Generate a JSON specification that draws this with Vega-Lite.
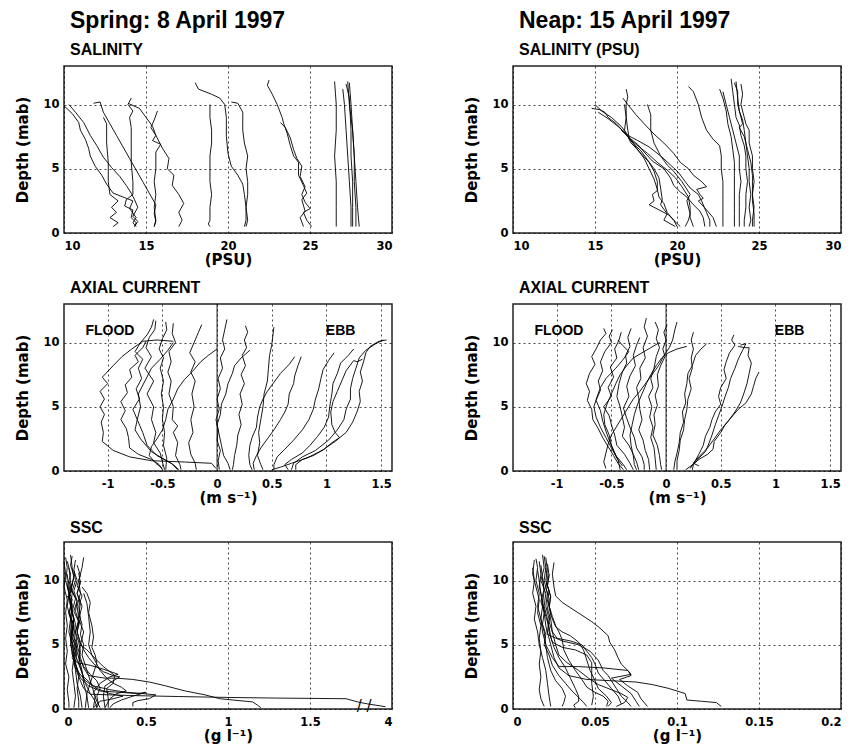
{
"$schema": "https://vega.github.io/schema/vega-lite/v6.json",
"background": "white",
"padding": {"left": 15, "top": 9, "right": 5, "bottom": 5},
"config": {
  "view": {"stroke": "#222", "strokeWidth": 1.5},
  "axis": {"grid": true, "gridColor": "black", "gridDash": [2, 3], "gridWidth": 0.8, "gridOpacity": 0.9, "domain": false, "ticks": false,
    "labelFont": "DejaVu Sans", "labelFontWeight": "bold", "labelFontSize": 11.5, "labelColor": "black",
    "titleFont": "DejaVu Sans", "titleFontSize": 15, "titleFontWeight": "bold", "titleColor": "black"},
  "axisX": {"labelPadding": 7, "titlePadding": 1},
  "axisY": {"labelPadding": 5, "titlePadding": 12},
  "title": {"font": "Liberation Sans", "fontSize": 16, "fontWeight": "bold", "color": "black", "anchor": "start", "frame": "group", "dx": 6, "offset": 6,
    "subtitleFont": "Liberation Sans", "subtitleFontSize": 16, "subtitleFontWeight": "bold", "subtitleColor": "black", "subtitlePadding": 9}
},
"datasets": {
"sal_s": [
{"c":"A","v":10.0,"d":9.9},{"c":"A","v":10.5,"d":9.3},{"c":"A","v":10.9,"d":8.6},{"c":"A","v":11.0,"d":8.0},{"c":"A","v":11.3,"d":7.3},{"c":"A","v":11.5,"d":6.6},{"c":"A","v":11.6,"d":6.0},{"c":"A","v":11.9,"d":5.2},{"c":"A","v":12.3,"d":4.5},{"c":"A","v":12.6,"d":3.8},{"c":"A","v":13.0,"d":3.1},{"c":"A","v":13.8,"d":2.7},{"c":"A","v":14.2,"d":2.5},{"c":"A","v":14.0,"d":1.9},{"c":"A","v":14.4,"d":1.2},{"c":"A","v":14.2,"d":0.8},{"c":"A","v":14.4,"d":0.5},
{"c":"B","v":10.3,"d":10.0},{"c":"B","v":10.7,"d":9.4},{"c":"B","v":11.2,"d":8.6},{"c":"B","v":11.6,"d":7.6},{"c":"B","v":12.0,"d":6.8},{"c":"B","v":12.4,"d":5.9},{"c":"B","v":12.9,"d":5.1},{"c":"B","v":13.4,"d":4.4},{"c":"B","v":13.8,"d":3.7},{"c":"B","v":14.1,"d":3.1},{"c":"B","v":14.3,"d":2.6},{"c":"B","v":14.5,"d":2.0},{"c":"B","v":14.2,"d":1.3},{"c":"B","v":14.5,"d":0.9},{"c":"B","v":14.3,"d":0.5},
{"c":"C","v":11.8,"d":10.1},{"c":"C","v":12.2,"d":10.2},{"c":"C","v":12.4,"d":9.4},{"c":"C","v":12.8,"d":8.5},{"c":"C","v":13.2,"d":7.6},{"c":"C","v":13.6,"d":6.7},{"c":"C","v":14.0,"d":5.8},{"c":"C","v":14.4,"d":4.9},{"c":"C","v":14.8,"d":4.0},{"c":"C","v":15.2,"d":3.1},{"c":"C","v":15.6,"d":2.2},{"c":"C","v":15.5,"d":1.5},{"c":"C","v":15.6,"d":0.9},{"c":"C","v":15.5,"d":0.5},
{"c":"D","v":12.4,"d":9.0},{"c":"D","v":12.6,"d":8.5},{"c":"D","v":12.6,"d":7.0},{"c":"D","v":12.7,"d":5.5},{"c":"D","v":12.7,"d":4.0},{"c":"D","v":12.8,"d":3.0},{"c":"D","v":13.3,"d":2.5},{"c":"D","v":12.9,"d":2.0},{"c":"D","v":13.2,"d":1.6},{"c":"D","v":12.8,"d":1.2},{"c":"D","v":13.3,"d":0.8},{"c":"D","v":13.0,"d":0.5},
{"c":"E","v":14.1,"d":10.5},{"c":"E","v":13.9,"d":10.0},{"c":"E","v":14.2,"d":9.5},{"c":"E","v":14.0,"d":9.0},{"c":"E","v":14.1,"d":8.2},{"c":"E","v":14.1,"d":7.0},{"c":"E","v":14.1,"d":5.5},{"c":"E","v":14.2,"d":4.0},{"c":"E","v":14.2,"d":3.0},{"c":"E","v":13.8,"d":2.6},{"c":"E","v":13.7,"d":2.1},{"c":"E","v":14.2,"d":1.8},{"c":"E","v":14.1,"d":1.2},{"c":"E","v":14.4,"d":0.8},{"c":"E","v":14.3,"d":0.5},
{"c":"F","v":13.9,"d":10.1},{"c":"F","v":14.6,"d":9.7},{"c":"F","v":15.0,"d":9.0},{"c":"F","v":15.4,"d":8.3},{"c":"F","v":15.6,"d":7.6},{"c":"F","v":16.0,"d":6.6},{"c":"F","v":16.4,"d":5.8},{"c":"F","v":16.3,"d":5.0},{"c":"F","v":16.7,"d":4.5},{"c":"F","v":16.6,"d":3.7},{"c":"F","v":17.0,"d":3.0},{"c":"F","v":17.3,"d":2.3},{"c":"F","v":17.0,"d":1.6},{"c":"F","v":17.2,"d":1.0},{"c":"F","v":17.0,"d":0.5},
{"c":"G","v":15.7,"d":9.5},{"c":"G","v":15.5,"d":8.8},{"c":"G","v":15.3,"d":8.2},{"c":"G","v":15.6,"d":7.6},{"c":"G","v":15.4,"d":7.2},{"c":"G","v":15.9,"d":6.9},{"c":"G","v":15.6,"d":6.3},{"c":"G","v":15.6,"d":5.0},{"c":"G","v":15.5,"d":4.0},{"c":"G","v":15.6,"d":3.0},{"c":"G","v":15.5,"d":2.0},{"c":"G","v":15.6,"d":1.0},{"c":"G","v":15.5,"d":0.5},
{"c":"H","v":18.0,"d":11.7},{"c":"H","v":18.2,"d":11.2},{"c":"H","v":19.0,"d":10.8},{"c":"H","v":19.5,"d":10.5},{"c":"H","v":19.8,"d":10.0},{"c":"H","v":19.9,"d":9.0},{"c":"H","v":19.9,"d":7.5},{"c":"H","v":20.0,"d":6.2},{"c":"H","v":20.2,"d":5.2},{"c":"H","v":20.6,"d":4.5},{"c":"H","v":20.9,"d":3.8},{"c":"H","v":21.0,"d":3.0},{"c":"H","v":21.1,"d":2.0},{"c":"H","v":21.1,"d":1.0},{"c":"H","v":21.0,"d":0.5},
{"c":"I","v":18.9,"d":10.0},{"c":"I","v":18.9,"d":9.0},{"c":"I","v":19.0,"d":8.0},{"c":"I","v":19.0,"d":7.0},{"c":"I","v":18.9,"d":6.0},{"c":"I","v":18.9,"d":5.0},{"c":"I","v":18.9,"d":4.0},{"c":"I","v":19.0,"d":3.0},{"c":"I","v":18.9,"d":2.0},{"c":"I","v":18.9,"d":1.0},{"c":"I","v":18.8,"d":0.7},{"c":"I","v":18.9,"d":0.5},
{"c":"J","v":20.2,"d":10.2},{"c":"J","v":20.6,"d":10.1},{"c":"J","v":20.9,"d":9.4},{"c":"J","v":20.9,"d":8.0},{"c":"J","v":21.0,"d":7.0},{"c":"J","v":21.2,"d":6.0},{"c":"J","v":21.1,"d":5.0},{"c":"J","v":21.2,"d":4.0},{"c":"J","v":21.2,"d":3.0},{"c":"J","v":21.1,"d":2.0},{"c":"J","v":21.2,"d":1.0},{"c":"J","v":21.1,"d":0.5},
{"c":"K","v":22.5,"d":11.9},{"c":"K","v":22.4,"d":11.5},{"c":"K","v":22.7,"d":10.8},{"c":"K","v":23.0,"d":10.0},{"c":"K","v":23.3,"d":9.0},{"c":"K","v":23.4,"d":8.5},{"c":"K","v":23.6,"d":7.8},{"c":"K","v":23.8,"d":6.8},{"c":"K","v":24.0,"d":6.0},{"c":"K","v":24.3,"d":5.5},{"c":"K","v":24.3,"d":4.5},{"c":"K","v":24.6,"d":3.7},{"c":"K","v":24.8,"d":3.1},{"c":"K","v":24.5,"d":2.6},{"c":"K","v":24.7,"d":1.7},{"c":"K","v":24.4,"d":1.2},{"c":"K","v":24.6,"d":0.5},
{"c":"L","v":23.2,"d":8.6},{"c":"L","v":23.5,"d":8.2},{"c":"L","v":23.8,"d":7.4},{"c":"L","v":24.0,"d":6.5},{"c":"L","v":24.2,"d":5.8},{"c":"L","v":24.5,"d":5.2},{"c":"L","v":24.4,"d":4.4},{"c":"L","v":24.7,"d":3.6},{"c":"L","v":24.5,"d":3.0},{"c":"L","v":24.7,"d":2.4},{"c":"L","v":25.0,"d":1.9},{"c":"L","v":24.6,"d":1.6},{"c":"L","v":24.8,"d":1.0},{"c":"L","v":25.1,"d":0.5},
{"c":"M","v":26.5,"d":11.8},{"c":"M","v":26.6,"d":10.0},{"c":"M","v":26.6,"d":8.0},{"c":"M","v":26.5,"d":6.0},{"c":"M","v":26.6,"d":4.0},{"c":"M","v":26.6,"d":2.0},{"c":"M","v":26.6,"d":0.5},
{"c":"N","v":27.0,"d":11.2},{"c":"N","v":27.1,"d":10.0},{"c":"N","v":27.2,"d":8.0},{"c":"N","v":27.3,"d":6.0},{"c":"N","v":27.4,"d":4.0},{"c":"N","v":27.5,"d":2.0},{"c":"N","v":27.5,"d":0.5},
{"c":"O","v":27.3,"d":11.8},{"c":"O","v":27.4,"d":10.0},{"c":"O","v":27.6,"d":8.0},{"c":"O","v":27.7,"d":6.0},{"c":"O","v":27.8,"d":4.0},{"c":"O","v":27.9,"d":2.0},{"c":"O","v":28.0,"d":0.5},
{"c":"P","v":27.4,"d":11.7},{"c":"P","v":27.5,"d":10.0},{"c":"P","v":27.6,"d":8.0},{"c":"P","v":27.7,"d":6.0},{"c":"P","v":27.7,"d":4.0},{"c":"P","v":27.8,"d":2.0},{"c":"P","v":27.8,"d":0.5},
{"c":"Q","v":27.2,"d":11.6},{"c":"Q","v":27.4,"d":10.5},{"c":"Q","v":27.5,"d":8.0},{"c":"Q","v":27.5,"d":6.0},{"c":"Q","v":27.6,"d":4.0},{"c":"Q","v":27.6,"d":2.0},{"c":"Q","v":27.6,"d":0.5}
],
"sal_n": [
{"c":"a","v":14.8,"d":9.7},{"c":"a","v":15.3,"d":9.6},{"c":"a","v":15.6,"d":9.4},{"c":"a","v":15.8,"d":9.0},{"c":"a","v":16.3,"d":8.5},{"c":"a","v":16.8,"d":7.8},{"c":"a","v":17.2,"d":7.2},{"c":"a","v":17.6,"d":6.5},{"c":"a","v":18.0,"d":5.8},{"c":"a","v":18.3,"d":5.0},{"c":"a","v":18.6,"d":4.2},{"c":"a","v":18.8,"d":3.4},{"c":"a","v":18.9,"d":2.8},{"c":"a","v":19.2,"d":2.3},{"c":"a","v":19.4,"d":1.6},{"c":"a","v":19.8,"d":1.0},{"c":"a","v":20.0,"d":0.5},
{"c":"b","v":15.0,"d":10.0},{"c":"b","v":15.4,"d":9.5},{"c":"b","v":16.0,"d":9.0},{"c":"b","v":16.6,"d":8.3},{"c":"b","v":17.0,"d":7.6},{"c":"b","v":17.6,"d":7.2},{"c":"b","v":18.3,"d":6.7},{"c":"b","v":19.0,"d":6.0},{"c":"b","v":19.6,"d":5.3},{"c":"b","v":20.1,"d":4.7},{"c":"b","v":20.5,"d":4.0},{"c":"b","v":20.8,"d":3.5},{"c":"b","v":21.3,"d":3.0},{"c":"b","v":21.5,"d":2.5},{"c":"b","v":21.8,"d":1.6},{"c":"b","v":22.0,"d":1.0},{"c":"b","v":22.0,"d":0.5},
{"c":"c","v":16.9,"d":11.2},{"c":"c","v":17.0,"d":10.6},{"c":"c","v":16.9,"d":10.0},{"c":"c","v":16.9,"d":9.0},{"c":"c","v":17.0,"d":8.0},{"c":"c","v":17.1,"d":7.3},{"c":"c","v":17.6,"d":6.8},{"c":"c","v":18.2,"d":6.2},{"c":"c","v":18.8,"d":5.5},{"c":"c","v":19.4,"d":4.9},{"c":"c","v":19.9,"d":4.3},{"c":"c","v":20.3,"d":3.6},{"c":"c","v":20.7,"d":2.8},{"c":"c","v":20.8,"d":2.0},{"c":"c","v":20.8,"d":1.2},{"c":"c","v":21.0,"d":0.5},
{"c":"d","v":16.7,"d":10.5},{"c":"d","v":17.0,"d":10.0},{"c":"d","v":17.5,"d":9.2},{"c":"d","v":18.0,"d":8.5},{"c":"d","v":18.6,"d":7.7},{"c":"d","v":19.2,"d":7.0},{"c":"d","v":19.8,"d":6.2},{"c":"d","v":20.2,"d":5.5},{"c":"d","v":20.7,"d":5.0},{"c":"d","v":21.0,"d":4.5},{"c":"d","v":21.5,"d":4.0},{"c":"d","v":21.8,"d":3.6},{"c":"d","v":21.2,"d":3.4},{"c":"d","v":21.4,"d":3.0},{"c":"d","v":21.6,"d":2.7},{"c":"d","v":21.3,"d":2.5},{"c":"d","v":21.8,"d":1.8},{"c":"d","v":22.2,"d":1.2},{"c":"d","v":22.4,"d":0.5},
{"c":"e","v":16.8,"d":10.0},{"c":"e","v":16.9,"d":9.0},{"c":"e","v":16.8,"d":8.0},{"c":"e","v":17.2,"d":7.0},{"c":"e","v":17.8,"d":6.2},{"c":"e","v":18.3,"d":5.5},{"c":"e","v":18.6,"d":4.8},{"c":"e","v":18.8,"d":4.0},{"c":"e","v":18.8,"d":3.3},{"c":"e","v":18.5,"d":3.0},{"c":"e","v":18.6,"d":2.5},{"c":"e","v":18.3,"d":2.2},{"c":"e","v":18.9,"d":1.8},{"c":"e","v":19.5,"d":1.4},{"c":"e","v":19.8,"d":1.0},{"c":"e","v":20.2,"d":0.5},
{"c":"f","v":18.2,"d":10.0},{"c":"f","v":18.4,"d":9.2},{"c":"f","v":18.4,"d":8.0},{"c":"f","v":18.6,"d":7.0},{"c":"f","v":19.0,"d":6.0},{"c":"f","v":19.4,"d":5.3},{"c":"f","v":19.8,"d":4.8},{"c":"f","v":20.3,"d":4.0},{"c":"f","v":20.8,"d":3.0},{"c":"f","v":20.6,"d":2.5},{"c":"f","v":20.8,"d":1.5},{"c":"f","v":20.7,"d":1.0},{"c":"f","v":20.5,"d":0.5},
{"c":"g","v":15.2,"d":9.4},{"c":"g","v":15.8,"d":8.9},{"c":"g","v":16.4,"d":8.3},{"c":"g","v":17.0,"d":7.6},{"c":"g","v":17.3,"d":7.0},{"c":"g","v":17.8,"d":6.4},{"c":"g","v":18.2,"d":5.7},{"c":"g","v":18.6,"d":5.0},{"c":"g","v":18.9,"d":4.3},{"c":"g","v":19.0,"d":3.5},{"c":"g","v":19.1,"d":2.6},{"c":"g","v":19.0,"d":2.2},{"c":"g","v":19.4,"d":1.5},{"c":"g","v":19.2,"d":1.0},{"c":"g","v":19.9,"d":0.5},
{"c":"h","v":16.6,"d":8.0},{"c":"h","v":17.1,"d":7.4},{"c":"h","v":17.6,"d":6.9},{"c":"h","v":18.0,"d":6.3},{"c":"h","v":18.5,"d":5.6},{"c":"h","v":19.2,"d":5.0},{"c":"h","v":19.6,"d":4.3},{"c":"h","v":19.8,"d":3.7},{"c":"h","v":20.2,"d":3.2},{"c":"h","v":20.6,"d":2.8},{"c":"h","v":21.0,"d":2.2},{"c":"h","v":21.4,"d":1.7},{"c":"h","v":21.6,"d":1.2},{"c":"h","v":21.7,"d":0.5},
{"c":"i","v":20.7,"d":11.4},{"c":"i","v":21.0,"d":11.0},{"c":"i","v":21.3,"d":10.0},{"c":"i","v":21.5,"d":9.0},{"c":"i","v":21.8,"d":8.0},{"c":"i","v":22.2,"d":7.3},{"c":"i","v":22.6,"d":6.8},{"c":"i","v":22.7,"d":6.0},{"c":"i","v":22.7,"d":5.0},{"c":"i","v":22.8,"d":4.0},{"c":"i","v":22.8,"d":3.0},{"c":"i","v":22.8,"d":2.0},{"c":"i","v":22.8,"d":1.0},{"c":"i","v":22.8,"d":0.5},
{"c":"j","v":22.6,"d":11.2},{"c":"j","v":22.8,"d":10.5},{"c":"j","v":23.0,"d":9.5},{"c":"j","v":23.1,"d":8.5},{"c":"j","v":23.3,"d":7.5},{"c":"j","v":23.4,"d":6.5},{"c":"j","v":23.5,"d":5.5},{"c":"j","v":23.5,"d":4.5},{"c":"j","v":23.5,"d":3.5},{"c":"j","v":23.5,"d":2.5},{"c":"j","v":23.5,"d":1.5},{"c":"j","v":23.5,"d":0.5},
{"c":"k","v":22.8,"d":11.0},{"c":"k","v":23.0,"d":10.0},{"c":"k","v":23.2,"d":9.0},{"c":"k","v":23.4,"d":8.0},{"c":"k","v":23.6,"d":7.0},{"c":"k","v":23.8,"d":6.0},{"c":"k","v":23.8,"d":5.0},{"c":"k","v":23.9,"d":4.0},{"c":"k","v":23.8,"d":3.0},{"c":"k","v":23.8,"d":2.0},{"c":"k","v":23.8,"d":1.0},{"c":"k","v":23.8,"d":0.5},
{"c":"l","v":23.3,"d":12.0},{"c":"l","v":23.4,"d":11.0},{"c":"l","v":23.5,"d":10.0},{"c":"l","v":23.6,"d":9.0},{"c":"l","v":23.8,"d":8.4},{"c":"l","v":23.9,"d":7.6},{"c":"l","v":24.1,"d":6.8},{"c":"l","v":24.2,"d":6.0},{"c":"l","v":24.2,"d":5.0},{"c":"l","v":24.3,"d":4.0},{"c":"l","v":24.2,"d":3.0},{"c":"l","v":24.2,"d":2.0},{"c":"l","v":24.1,"d":1.0},{"c":"l","v":24.1,"d":0.5},
{"c":"m","v":23.5,"d":11.7},{"c":"m","v":23.7,"d":11.0},{"c":"m","v":23.7,"d":10.0},{"c":"m","v":23.9,"d":9.0},{"c":"m","v":24.0,"d":8.5},{"c":"m","v":23.8,"d":8.2},{"c":"m","v":24.1,"d":7.5},{"c":"m","v":24.3,"d":6.5},{"c":"m","v":24.5,"d":5.5},{"c":"m","v":24.6,"d":4.5},{"c":"m","v":24.6,"d":3.5},{"c":"m","v":24.6,"d":2.5},{"c":"m","v":24.7,"d":1.5},{"c":"m","v":24.7,"d":0.5},
{"c":"n","v":23.9,"d":11.6},{"c":"n","v":24.0,"d":10.8},{"c":"n","v":23.9,"d":10.0},{"c":"n","v":24.1,"d":9.0},{"c":"n","v":24.2,"d":8.5},{"c":"n","v":24.4,"d":8.0},{"c":"n","v":24.4,"d":7.0},{"c":"n","v":24.6,"d":6.0},{"c":"n","v":24.6,"d":5.0},{"c":"n","v":24.7,"d":4.0},{"c":"n","v":24.6,"d":3.0},{"c":"n","v":24.7,"d":2.0},{"c":"n","v":24.6,"d":1.0},{"c":"n","v":24.6,"d":0.5},
{"c":"o","v":23.6,"d":11.8},{"c":"o","v":23.7,"d":10.5},{"c":"o","v":23.8,"d":9.5},{"c":"o","v":24.0,"d":8.8},{"c":"o","v":24.1,"d":8.0},{"c":"o","v":24.2,"d":7.0},{"c":"o","v":24.3,"d":6.0},{"c":"o","v":24.4,"d":5.0},{"c":"o","v":24.4,"d":4.0},{"c":"o","v":24.5,"d":3.0},{"c":"o","v":24.4,"d":2.0},{"c":"o","v":24.5,"d":1.0},{"c":"o","v":24.4,"d":0.5}
],
"cur_s": [
{"c":"F1","v":-0.40,"d":10.1},{"c":"F1","v":-0.55,"d":10.2},{"c":"F1","v":-0.68,"d":10.1},{"c":"F1","v":-0.78,"d":9.5},{"c":"F1","v":-0.87,"d":8.9},{"c":"F1","v":-0.95,"d":8.2},{"c":"F1","v":-1.05,"d":7.3},{"c":"F1","v":-1.0,"d":6.8},{"c":"F1","v":-1.07,"d":6.2},{"c":"F1","v":-1.03,"d":5.6},{"c":"F1","v":-1.07,"d":5.0},{"c":"F1","v":-1.03,"d":4.4},{"c":"F1","v":-1.06,"d":3.8},{"c":"F1","v":-1.04,"d":3.0},{"c":"F1","v":-1.05,"d":2.3},{"c":"F1","v":-0.95,"d":1.6},{"c":"F1","v":-0.8,"d":1.1},{"c":"F1","v":-0.6,"d":0.8},{"c":"F1","v":-0.3,"d":0.7},{"c":"F1","v":-0.05,"d":0.6},{"c":"F1","v":-0.01,"d":0.2},
{"c":"F2","v":-0.65,"d":10.1},{"c":"F2","v":-0.68,"d":9.6},{"c":"F2","v":-0.75,"d":9.0},{"c":"F2","v":-0.72,"d":8.5},{"c":"F2","v":-0.80,"d":7.9},{"c":"F2","v":-0.78,"d":7.3},{"c":"F2","v":-0.84,"d":6.7},{"c":"F2","v":-0.82,"d":6.1},{"c":"F2","v":-0.88,"d":5.4},{"c":"F2","v":-0.84,"d":4.7},{"c":"F2","v":-0.88,"d":4.0},{"c":"F2","v":-0.83,"d":3.3},{"c":"F2","v":-0.81,"d":2.6},{"c":"F2","v":-0.80,"d":1.8},{"c":"F2","v":-0.72,"d":1.3},{"c":"F2","v":-0.6,"d":0.9},{"c":"F2","v":-0.53,"d":0.5},{"c":"F2","v":-0.5,"d":0.1},
{"c":"F3","v":-0.58,"d":11.8},{"c":"F3","v":-0.6,"d":11.2},{"c":"F3","v":-0.64,"d":10.6},{"c":"F3","v":-0.7,"d":10.0},{"c":"F3","v":-0.75,"d":9.3},{"c":"F3","v":-0.68,"d":8.7},{"c":"F3","v":-0.72,"d":8.0},{"c":"F3","v":-0.69,"d":7.2},{"c":"F3","v":-0.74,"d":6.4},{"c":"F3","v":-0.71,"d":5.6},{"c":"F3","v":-0.77,"d":4.8},{"c":"F3","v":-0.73,"d":4.0},{"c":"F3","v":-0.75,"d":3.2},{"c":"F3","v":-0.70,"d":2.5},{"c":"F3","v":-0.6,"d":1.5},{"c":"F3","v":-0.5,"d":1.0},{"c":"F3","v":-0.4,"d":0.5},{"c":"F3","v":-0.35,"d":0.1},
{"c":"F4","v":-0.56,"d":11.7},{"c":"F4","v":-0.57,"d":11.0},{"c":"F4","v":-0.62,"d":10.4},{"c":"F4","v":-0.65,"d":9.6},{"c":"F4","v":-0.60,"d":8.9},{"c":"F4","v":-0.66,"d":8.0},{"c":"F4","v":-0.58,"d":7.0},{"c":"F4","v":-0.64,"d":6.0},{"c":"F4","v":-0.58,"d":5.0},{"c":"F4","v":-0.60,"d":4.0},{"c":"F4","v":-0.56,"d":3.0},{"c":"F4","v":-0.58,"d":2.2},{"c":"F4","v":-0.52,"d":1.4},{"c":"F4","v":-0.5,"d":0.7},{"c":"F4","v":-0.48,"d":0.1},
{"c":"F5","v":-0.47,"d":11.6},{"c":"F5","v":-0.46,"d":11.0},{"c":"F5","v":-0.50,"d":10.3},{"c":"F5","v":-0.53,"d":9.5},{"c":"F5","v":-0.49,"d":8.8},{"c":"F5","v":-0.52,"d":8.0},{"c":"F5","v":-0.49,"d":7.0},{"c":"F5","v":-0.51,"d":6.0},{"c":"F5","v":-0.49,"d":5.0},{"c":"F5","v":-0.50,"d":4.0},{"c":"F5","v":-0.48,"d":3.0},{"c":"F5","v":-0.49,"d":2.0},{"c":"F5","v":-0.46,"d":1.0},{"c":"F5","v":-0.47,"d":0.1},
{"c":"F6","v":-0.40,"d":11.5},{"c":"F6","v":-0.41,"d":10.7},{"c":"F6","v":-0.38,"d":10.0},{"c":"F6","v":-0.44,"d":9.3},{"c":"F6","v":-0.42,"d":8.5},{"c":"F6","v":-0.45,"d":7.7},{"c":"F6","v":-0.42,"d":7.0},{"c":"F6","v":-0.44,"d":6.0},{"c":"F6","v":-0.40,"d":5.0},{"c":"F6","v":-0.41,"d":4.0},{"c":"F6","v":-0.36,"d":3.5},{"c":"F6","v":-0.40,"d":3.0},{"c":"F6","v":-0.36,"d":2.2},{"c":"F6","v":-0.38,"d":1.2},{"c":"F6","v":-0.34,"d":0.5},{"c":"F6","v":-0.33,"d":0.1},
{"c":"F7","v":-0.14,"d":11.4},{"c":"F7","v":-0.17,"d":10.8},{"c":"F7","v":-0.21,"d":10.0},{"c":"F7","v":-0.25,"d":9.2},{"c":"F7","v":-0.20,"d":8.5},{"c":"F7","v":-0.24,"d":7.7},{"c":"F7","v":-0.20,"d":7.0},{"c":"F7","v":-0.23,"d":6.0},{"c":"F7","v":-0.21,"d":5.0},{"c":"F7","v":-0.24,"d":4.0},{"c":"F7","v":-0.22,"d":3.0},{"c":"F7","v":-0.26,"d":2.2},{"c":"F7","v":-0.24,"d":1.3},{"c":"F7","v":-0.2,"d":0.6},{"c":"F7","v":-0.19,"d":0.1},
{"c":"F8","v":0.0,"d":9.5},{"c":"F8","v":-0.08,"d":9.0},{"c":"F8","v":-0.15,"d":8.5},{"c":"F8","v":-0.22,"d":7.8},{"c":"F8","v":-0.30,"d":7.1},{"c":"F8","v":-0.36,"d":6.4},{"c":"F8","v":-0.40,"d":5.6},{"c":"F8","v":-0.45,"d":4.8},{"c":"F8","v":-0.47,"d":4.0},{"c":"F8","v":-0.50,"d":3.2},{"c":"F8","v":-0.55,"d":2.5},{"c":"F8","v":-0.60,"d":1.9},{"c":"F8","v":-0.62,"d":1.2},{"c":"F8","v":-0.56,"d":0.6},{"c":"F8","v":-0.5,"d":0.2},
{"c":"F9","v":-0.40,"d":10.0},{"c":"F9","v":-0.45,"d":9.4},{"c":"F9","v":-0.52,"d":8.7},{"c":"F9","v":-0.60,"d":8.0},{"c":"F9","v":-0.66,"d":7.0},{"c":"F9","v":-0.72,"d":6.0},{"c":"F9","v":-0.70,"d":5.0},{"c":"F9","v":-0.73,"d":4.0},{"c":"F9","v":-0.68,"d":3.0},{"c":"F9","v":-0.64,"d":2.0},{"c":"F9","v":-0.55,"d":1.2},{"c":"F9","v":-0.42,"d":0.6},{"c":"F9","v":-0.36,"d":0.1},
{"c":"E1","v":0.09,"d":11.8},{"c":"E1","v":0.07,"d":11.0},{"c":"E1","v":0.05,"d":10.2},{"c":"E1","v":0.07,"d":9.5},{"c":"E1","v":0.03,"d":8.8},{"c":"E1","v":0.05,"d":8.0},{"c":"E1","v":0.01,"d":7.2},{"c":"E1","v":0.03,"d":6.4},{"c":"E1","v":0.0,"d":5.6},{"c":"E1","v":0.02,"d":4.8},{"c":"E1","v":-0.01,"d":4.0},{"c":"E1","v":0.01,"d":3.2},{"c":"E1","v":0.0,"d":2.4},{"c":"E1","v":0.03,"d":1.6},{"c":"E1","v":0.01,"d":0.8},{"c":"E1","v":0.02,"d":0.1},
{"c":"E2","v":0.26,"d":11.3},{"c":"E2","v":0.28,"d":10.8},{"c":"E2","v":0.25,"d":10.2},{"c":"E2","v":0.27,"d":9.6},{"c":"E2","v":0.23,"d":9.0},{"c":"E2","v":0.26,"d":8.2},{"c":"E2","v":0.22,"d":7.5},{"c":"E2","v":0.25,"d":6.8},{"c":"E2","v":0.21,"d":6.0},{"c":"E2","v":0.23,"d":5.2},{"c":"E2","v":0.20,"d":4.4},{"c":"E2","v":0.22,"d":3.6},{"c":"E2","v":0.19,"d":2.8},{"c":"E2","v":0.18,"d":2.0},{"c":"E2","v":0.16,"d":1.2},{"c":"E2","v":0.15,"d":0.5},{"c":"E2","v":0.14,"d":0.1},
{"c":"E3","v":0.52,"d":11.2},{"c":"E3","v":0.51,"d":10.5},{"c":"E3","v":0.50,"d":9.8},{"c":"E3","v":0.48,"d":9.0},{"c":"E3","v":0.47,"d":8.0},{"c":"E3","v":0.46,"d":7.0},{"c":"E3","v":0.43,"d":6.0},{"c":"E3","v":0.42,"d":5.0},{"c":"E3","v":0.40,"d":4.0},{"c":"E3","v":0.38,"d":3.0},{"c":"E3","v":0.39,"d":2.2},{"c":"E3","v":0.37,"d":1.2},{"c":"E3","v":0.40,"d":0.5},{"c":"E3","v":0.42,"d":0.1},
{"c":"E4","v":0.30,"d":9.4},{"c":"E4","v":0.22,"d":8.8},{"c":"E4","v":0.16,"d":8.2},{"c":"E4","v":0.14,"d":7.6},{"c":"E4","v":0.10,"d":6.8},{"c":"E4","v":0.08,"d":6.0},{"c":"E4","v":0.04,"d":5.2},{"c":"E4","v":0.03,"d":4.4},{"c":"E4","v":0.0,"d":3.6},{"c":"E4","v":0.02,"d":2.8},{"c":"E4","v":0.04,"d":2.0},{"c":"E4","v":0.06,"d":1.2},{"c":"E4","v":0.10,"d":0.6},{"c":"E4","v":0.12,"d":0.1},
{"c":"E5","v":0.71,"d":8.9},{"c":"E5","v":0.66,"d":8.3},{"c":"E5","v":0.58,"d":7.6},{"c":"E5","v":0.52,"d":6.9},{"c":"E5","v":0.46,"d":6.2},{"c":"E5","v":0.42,"d":5.6},{"c":"E5","v":0.39,"d":5.0},{"c":"E5","v":0.37,"d":4.2},{"c":"E5","v":0.36,"d":3.4},{"c":"E5","v":0.32,"d":2.6},{"c":"E5","v":0.30,"d":2.0},{"c":"E5","v":0.29,"d":1.2},{"c":"E5","v":0.30,"d":0.5},{"c":"E5","v":0.32,"d":0.1},
{"c":"E6","v":0.77,"d":8.9},{"c":"E6","v":0.74,"d":8.2},{"c":"E6","v":0.71,"d":7.4},{"c":"E6","v":0.70,"d":6.8},{"c":"E6","v":0.66,"d":6.0},{"c":"E6","v":0.65,"d":5.2},{"c":"E6","v":0.62,"d":4.6},{"c":"E6","v":0.58,"d":4.0},{"c":"E6","v":0.52,"d":3.2},{"c":"E6","v":0.46,"d":2.5},{"c":"E6","v":0.40,"d":1.8},{"c":"E6","v":0.36,"d":1.2},{"c":"E6","v":0.33,"d":0.6},{"c":"E6","v":0.34,"d":0.1},
{"c":"E7","v":1.07,"d":9.2},{"c":"E7","v":1.02,"d":8.6},{"c":"E7","v":0.97,"d":7.9},{"c":"E7","v":0.95,"d":7.2},{"c":"E7","v":0.93,"d":6.4},{"c":"E7","v":0.90,"d":5.6},{"c":"E7","v":0.88,"d":4.8},{"c":"E7","v":0.84,"d":4.0},{"c":"E7","v":0.78,"d":3.2},{"c":"E7","v":0.70,"d":2.4},{"c":"E7","v":0.62,"d":1.7},{"c":"E7","v":0.55,"d":1.1},{"c":"E7","v":0.52,"d":0.5},{"c":"E7","v":0.52,"d":0.1},
{"c":"E8","v":1.25,"d":9.5},{"c":"E8","v":1.20,"d":9.0},{"c":"E8","v":1.13,"d":8.4},{"c":"E8","v":1.10,"d":7.6},{"c":"E8","v":1.06,"d":6.8},{"c":"E8","v":1.05,"d":6.0},{"c":"E8","v":1.03,"d":5.0},{"c":"E8","v":1.02,"d":4.2},{"c":"E8","v":0.98,"d":3.4},{"c":"E8","v":0.92,"d":2.7},{"c":"E8","v":0.85,"d":2.0},{"c":"E8","v":0.78,"d":1.4},{"c":"E8","v":0.68,"d":0.9},{"c":"E8","v":0.62,"d":0.5},{"c":"E8","v":0.65,"d":0.1},
{"c":"E9","v":1.33,"d":8.7},{"c":"E9","v":1.28,"d":8.5},{"c":"E9","v":1.25,"d":8.6},{"c":"E9","v":1.18,"d":7.8},{"c":"E9","v":1.14,"d":7.0},{"c":"E9","v":1.10,"d":6.2},{"c":"E9","v":1.06,"d":5.4},{"c":"E9","v":1.04,"d":4.6},{"c":"E9","v":1.05,"d":3.6},{"c":"E9","v":1.08,"d":3.0},{"c":"E9","v":1.12,"d":2.6},{"c":"E9","v":1.05,"d":2.2},{"c":"E9","v":0.98,"d":1.7},{"c":"E9","v":0.88,"d":1.2},{"c":"E9","v":0.78,"d":0.9},{"c":"E9","v":0.72,"d":0.5},{"c":"E9","v":0.72,"d":0.1},
{"c":"E10","v":1.55,"d":10.2},{"c":"E10","v":1.48,"d":10.1},{"c":"E10","v":1.40,"d":9.7},{"c":"E10","v":1.36,"d":9.2},{"c":"E10","v":1.34,"d":8.5},{"c":"E10","v":1.31,"d":7.7},{"c":"E10","v":1.33,"d":7.0},{"c":"E10","v":1.30,"d":6.2},{"c":"E10","v":1.31,"d":5.4},{"c":"E10","v":1.28,"d":4.6},{"c":"E10","v":1.24,"d":3.8},{"c":"E10","v":1.18,"d":3.0},{"c":"E10","v":1.08,"d":2.3},{"c":"E10","v":0.96,"d":1.6},{"c":"E10","v":0.82,"d":1.0},{"c":"E10","v":0.68,"d":0.6},{"c":"E10","v":0.58,"d":0.3},{"c":"E10","v":0.50,"d":0.1},
{"c":"E11","v":1.52,"d":10.2},{"c":"E11","v":1.45,"d":9.9},{"c":"E11","v":1.36,"d":9.4},{"c":"E11","v":1.30,"d":8.8},{"c":"E11","v":1.27,"d":8.0},{"c":"E11","v":1.24,"d":7.2},{"c":"E11","v":1.22,"d":6.4},{"c":"E11","v":1.22,"d":5.6},{"c":"E11","v":1.18,"d":4.8},{"c":"E11","v":1.16,"d":4.0},{"c":"E11","v":1.10,"d":3.2},{"c":"E11","v":1.02,"d":2.4},{"c":"E11","v":0.90,"d":1.6},{"c":"E11","v":0.78,"d":1.1},{"c":"E11","v":0.70,"d":0.6},{"c":"E11","v":0.68,"d":0.1}
],
"cur_n": [
{"c":"N1","v":0.62,"d":10.6},{"c":"N1","v":0.60,"d":10.2},{"c":"N1","v":0.63,"d":9.8},{"c":"N1","v":0.58,"d":9.2},{"c":"N1","v":0.55,"d":8.5},{"c":"N1","v":0.53,"d":7.9},{"c":"N1","v":0.55,"d":7.2},{"c":"N1","v":0.50,"d":6.5},{"c":"N1","v":0.48,"d":5.8},{"c":"N1","v":0.50,"d":5.2},{"c":"N1","v":0.45,"d":4.6},{"c":"N1","v":0.42,"d":4.0},{"c":"N1","v":0.40,"d":3.4},{"c":"N1","v":0.36,"d":2.7},{"c":"N1","v":0.34,"d":2.0},{"c":"N1","v":0.30,"d":1.3},{"c":"N1","v":0.26,"d":0.7},{"c":"N1","v":0.22,"d":0.2},
{"c":"N2","v":0.68,"d":9.8},{"c":"N2","v":0.73,"d":9.9},{"c":"N2","v":0.70,"d":9.4},{"c":"N2","v":0.66,"d":8.7},{"c":"N2","v":0.63,"d":8.0},{"c":"N2","v":0.59,"d":7.2},{"c":"N2","v":0.57,"d":6.5},{"c":"N2","v":0.54,"d":5.8},{"c":"N2","v":0.51,"d":5.0},{"c":"N2","v":0.48,"d":4.3},{"c":"N2","v":0.45,"d":3.6},{"c":"N2","v":0.42,"d":2.8},{"c":"N2","v":0.39,"d":2.1},{"c":"N2","v":0.36,"d":1.5},{"c":"N2","v":0.30,"d":1.0},{"c":"N2","v":0.25,"d":0.5},{"c":"N2","v":0.24,"d":0.1},
{"c":"N3","v":0.66,"d":9.7},{"c":"N3","v":0.72,"d":9.6},{"c":"N3","v":0.76,"d":9.6},{"c":"N3","v":0.75,"d":9.0},{"c":"N3","v":0.78,"d":8.4},{"c":"N3","v":0.76,"d":7.6},{"c":"N3","v":0.74,"d":6.8},{"c":"N3","v":0.71,"d":6.0},{"c":"N3","v":0.68,"d":5.3},{"c":"N3","v":0.63,"d":4.6},{"c":"N3","v":0.57,"d":3.9},{"c":"N3","v":0.50,"d":3.2},{"c":"N3","v":0.44,"d":2.5},{"c":"N3","v":0.38,"d":1.8},{"c":"N3","v":0.30,"d":1.1},{"c":"N3","v":0.25,"d":0.6},{"c":"N3","v":0.30,"d":0.4},
{"c":"N4","v":0.85,"d":7.7},{"c":"N4","v":0.82,"d":7.2},{"c":"N4","v":0.80,"d":6.6},{"c":"N4","v":0.78,"d":6.0},{"c":"N4","v":0.73,"d":5.3},{"c":"N4","v":0.66,"d":4.8},{"c":"N4","v":0.60,"d":4.2},{"c":"N4","v":0.54,"d":3.6},{"c":"N4","v":0.50,"d":3.0},{"c":"N4","v":0.44,"d":2.3},{"c":"N4","v":0.43,"d":1.7},{"c":"N4","v":0.38,"d":1.3},{"c":"N4","v":0.30,"d":0.9},{"c":"N4","v":0.26,"d":0.6},{"c":"N4","v":0.18,"d":0.1},
{"c":"N5","v":0.37,"d":9.9},{"c":"N5","v":0.32,"d":9.5},{"c":"N5","v":0.27,"d":9.0},{"c":"N5","v":0.24,"d":8.2},{"c":"N5","v":0.20,"d":7.6},{"c":"N5","v":0.19,"d":6.8},{"c":"N5","v":0.17,"d":6.0},{"c":"N5","v":0.18,"d":5.3},{"c":"N5","v":0.15,"d":4.6},{"c":"N5","v":0.16,"d":3.8},{"c":"N5","v":0.13,"d":3.0},{"c":"N5","v":0.12,"d":2.2},{"c":"N5","v":0.10,"d":1.4},{"c":"N5","v":0.08,"d":0.7},{"c":"N5","v":0.07,"d":0.1},
{"c":"N6","v":0.25,"d":10.8},{"c":"N6","v":0.23,"d":10.2},{"c":"N6","v":0.25,"d":9.5},{"c":"N6","v":0.23,"d":8.8},{"c":"N6","v":0.24,"d":8.0},{"c":"N6","v":0.21,"d":7.2},{"c":"N6","v":0.23,"d":6.4},{"c":"N6","v":0.20,"d":5.6},{"c":"N6","v":0.19,"d":4.8},{"c":"N6","v":0.17,"d":4.0},{"c":"N6","v":0.16,"d":3.2},{"c":"N6","v":0.13,"d":2.4},{"c":"N6","v":0.12,"d":1.6},{"c":"N6","v":0.10,"d":0.8},{"c":"N6","v":0.10,"d":0.1},
{"c":"N7","v":0.19,"d":9.7},{"c":"N7","v":0.10,"d":9.5},{"c":"N7","v":0.02,"d":9.2},{"c":"N7","v":-0.04,"d":8.8},{"c":"N7","v":-0.09,"d":8.2},{"c":"N7","v":-0.14,"d":7.5},{"c":"N7","v":-0.18,"d":6.8},{"c":"N7","v":-0.22,"d":6.0},{"c":"N7","v":-0.26,"d":5.2},{"c":"N7","v":-0.29,"d":4.4},{"c":"N7","v":-0.31,"d":3.6},{"c":"N7","v":-0.33,"d":2.8},{"c":"N7","v":-0.32,"d":2.0},{"c":"N7","v":-0.30,"d":1.2},{"c":"N7","v":-0.29,"d":0.5},{"c":"N7","v":-0.27,"d":0.1},
{"c":"N8","v":-0.57,"d":11.1},{"c":"N8","v":-0.55,"d":10.7},{"c":"N8","v":-0.60,"d":10.2},{"c":"N8","v":-0.64,"d":9.5},{"c":"N8","v":-0.68,"d":8.9},{"c":"N8","v":-0.65,"d":8.3},{"c":"N8","v":-0.70,"d":7.6},{"c":"N8","v":-0.73,"d":6.8},{"c":"N8","v":-0.70,"d":6.2},{"c":"N8","v":-0.72,"d":5.5},{"c":"N8","v":-0.68,"d":4.8},{"c":"N8","v":-0.67,"d":4.0},{"c":"N8","v":-0.62,"d":3.3},{"c":"N8","v":-0.58,"d":2.6},{"c":"N8","v":-0.53,"d":1.9},{"c":"N8","v":-0.48,"d":1.2},{"c":"N8","v":-0.44,"d":0.6},{"c":"N8","v":-0.39,"d":0.1},
{"c":"N9","v":-0.49,"d":11.0},{"c":"N9","v":-0.52,"d":10.5},{"c":"N9","v":-0.50,"d":10.0},{"c":"N9","v":-0.56,"d":9.3},{"c":"N9","v":-0.60,"d":8.5},{"c":"N9","v":-0.58,"d":7.8},{"c":"N9","v":-0.62,"d":7.0},{"c":"N9","v":-0.60,"d":6.3},{"c":"N9","v":-0.64,"d":5.5},{"c":"N9","v":-0.60,"d":4.7},{"c":"N9","v":-0.58,"d":3.9},{"c":"N9","v":-0.55,"d":3.1},{"c":"N9","v":-0.52,"d":2.4},{"c":"N9","v":-0.48,"d":1.6},{"c":"N9","v":-0.44,"d":0.9},{"c":"N9","v":-0.42,"d":0.1},
{"c":"N10","v":-0.41,"d":10.8},{"c":"N10","v":-0.43,"d":10.2},{"c":"N10","v":-0.47,"d":9.5},{"c":"N10","v":-0.45,"d":8.8},{"c":"N10","v":-0.51,"d":8.1},{"c":"N10","v":-0.48,"d":7.3},{"c":"N10","v":-0.53,"d":6.5},{"c":"N10","v":-0.50,"d":5.8},{"c":"N10","v":-0.57,"d":5.0},{"c":"N10","v":-0.52,"d":4.3},{"c":"N10","v":-0.50,"d":3.6},{"c":"N10","v":-0.47,"d":2.8},{"c":"N10","v":-0.45,"d":2.0},{"c":"N10","v":-0.38,"d":1.3},{"c":"N10","v":-0.33,"d":0.6},{"c":"N10","v":-0.30,"d":0.1},
{"c":"N11","v":-0.32,"d":11.1},{"c":"N11","v":-0.35,"d":10.4},{"c":"N11","v":-0.33,"d":9.7},{"c":"N11","v":-0.37,"d":9.0},{"c":"N11","v":-0.36,"d":8.4},{"c":"N11","v":-0.40,"d":7.7},{"c":"N11","v":-0.43,"d":6.8},{"c":"N11","v":-0.45,"d":5.8},{"c":"N11","v":-0.42,"d":5.0},{"c":"N11","v":-0.40,"d":4.2},{"c":"N11","v":-0.38,"d":3.4},{"c":"N11","v":-0.40,"d":2.7},{"c":"N11","v":-0.34,"d":2.0},{"c":"N11","v":-0.30,"d":1.3},{"c":"N11","v":-0.27,"d":0.7},{"c":"N11","v":-0.25,"d":0.1},
{"c":"N12","v":-0.24,"d":10.4},{"c":"N12","v":-0.27,"d":9.8},{"c":"N12","v":-0.30,"d":9.0},{"c":"N12","v":-0.28,"d":8.2},{"c":"N12","v":-0.33,"d":7.4},{"c":"N12","v":-0.36,"d":6.6},{"c":"N12","v":-0.34,"d":5.8},{"c":"N12","v":-0.39,"d":4.9},{"c":"N12","v":-0.36,"d":4.1},{"c":"N12","v":-0.33,"d":3.4},{"c":"N12","v":-0.29,"d":2.6},{"c":"N12","v":-0.27,"d":1.8},{"c":"N12","v":-0.22,"d":1.1},{"c":"N12","v":-0.20,"d":0.5},{"c":"N12","v":-0.20,"d":0.1},
{"c":"N13","v":-0.18,"d":11.9},{"c":"N13","v":-0.20,"d":11.2},{"c":"N13","v":-0.17,"d":10.5},{"c":"N13","v":-0.21,"d":9.6},{"c":"N13","v":-0.19,"d":8.8},{"c":"N13","v":-0.24,"d":8.0},{"c":"N13","v":-0.23,"d":7.2},{"c":"N13","v":-0.27,"d":6.5},{"c":"N13","v":-0.25,"d":5.7},{"c":"N13","v":-0.24,"d":4.8},{"c":"N13","v":-0.22,"d":4.0},{"c":"N13","v":-0.25,"d":3.2},{"c":"N13","v":-0.21,"d":2.4},{"c":"N13","v":-0.19,"d":1.6},{"c":"N13","v":-0.16,"d":0.9},{"c":"N13","v":-0.15,"d":0.1},
{"c":"N14","v":-0.10,"d":11.6},{"c":"N14","v":-0.07,"d":11.0},{"c":"N14","v":-0.09,"d":10.3},{"c":"N14","v":-0.06,"d":9.6},{"c":"N14","v":-0.09,"d":8.9},{"c":"N14","v":-0.11,"d":8.0},{"c":"N14","v":-0.14,"d":7.2},{"c":"N14","v":-0.12,"d":6.5},{"c":"N14","v":-0.16,"d":5.8},{"c":"N14","v":-0.13,"d":5.0},{"c":"N14","v":-0.15,"d":4.2},{"c":"N14","v":-0.12,"d":3.4},{"c":"N14","v":-0.14,"d":2.6},{"c":"N14","v":-0.11,"d":1.8},{"c":"N14","v":-0.10,"d":1.0},{"c":"N14","v":-0.09,"d":0.1},
{"c":"N15","v":0.01,"d":11.4},{"c":"N15","v":-0.02,"d":10.8},{"c":"N15","v":0.0,"d":10.2},{"c":"N15","v":-0.03,"d":9.5},{"c":"N15","v":-0.01,"d":8.9},{"c":"N15","v":-0.05,"d":8.2},{"c":"N15","v":-0.08,"d":7.5},{"c":"N15","v":-0.07,"d":6.6},{"c":"N15","v":-0.10,"d":5.9},{"c":"N15","v":-0.08,"d":5.1},{"c":"N15","v":-0.11,"d":4.4},{"c":"N15","v":-0.10,"d":3.6},{"c":"N15","v":-0.12,"d":2.8},{"c":"N15","v":-0.08,"d":2.0},{"c":"N15","v":-0.06,"d":1.2},{"c":"N15","v":-0.05,"d":0.5},{"c":"N15","v":-0.04,"d":0.1},
{"c":"N16","v":-0.06,"d":10.0},{"c":"N16","v":-0.14,"d":9.6},{"c":"N16","v":-0.22,"d":9.2},{"c":"N16","v":-0.30,"d":8.8},{"c":"N16","v":-0.36,"d":8.2},{"c":"N16","v":-0.42,"d":7.5},{"c":"N16","v":-0.46,"d":6.8},{"c":"N16","v":-0.50,"d":6.0},{"c":"N16","v":-0.54,"d":5.2},{"c":"N16","v":-0.57,"d":4.4},{"c":"N16","v":-0.56,"d":3.6},{"c":"N16","v":-0.52,"d":2.8},{"c":"N16","v":-0.50,"d":2.0},{"c":"N16","v":-0.46,"d":1.2},{"c":"N16","v":-0.40,"d":0.6},{"c":"N16","v":-0.36,"d":0.1},
{"c":"N17","v":0.10,"d":11.6},{"c":"N17","v":0.08,"d":11.0},{"c":"N17","v":0.06,"d":10.2},{"c":"N17","v":0.03,"d":9.6},{"c":"N17","v":-0.02,"d":9.0},{"c":"N17","v":-0.06,"d":8.3},{"c":"N17","v":-0.12,"d":7.6},{"c":"N17","v":-0.18,"d":6.9},{"c":"N17","v":-0.24,"d":6.2},{"c":"N17","v":-0.30,"d":5.6},{"c":"N17","v":-0.35,"d":4.9},{"c":"N17","v":-0.40,"d":4.2},{"c":"N17","v":-0.45,"d":3.5},{"c":"N17","v":-0.50,"d":2.8},{"c":"N17","v":-0.53,"d":2.1},{"c":"N17","v":-0.55,"d":1.4},{"c":"N17","v":-0.57,"d":0.7},{"c":"N17","v":-0.55,"d":0.2},
{"c":"N18","v":-0.44,"d":10.2},{"c":"N18","v":-0.40,"d":9.8},{"c":"N18","v":-0.34,"d":9.3},{"c":"N18","v":-0.40,"d":8.6},{"c":"N18","v":-0.46,"d":8.0},{"c":"N18","v":-0.55,"d":7.2},{"c":"N18","v":-0.60,"d":6.5},{"c":"N18","v":-0.63,"d":5.8},{"c":"N18","v":-0.66,"d":5.0},{"c":"N18","v":-0.64,"d":4.2},{"c":"N18","v":-0.60,"d":3.4},{"c":"N18","v":-0.55,"d":2.6},{"c":"N18","v":-0.50,"d":1.8},{"c":"N18","v":-0.45,"d":1.0},{"c":"N18","v":-0.40,"d":0.4}
],
"ssc_s": [
{"c":"S1","v":0.02,"d":11.5},{"c":"S1","v":0.04,"d":10.5},{"c":"S1","v":0.02,"d":9.5},{"c":"S1","v":0.05,"d":8.5},{"c":"S1","v":0.03,"d":7.5},{"c":"S1","v":0.06,"d":6.5},{"c":"S1","v":0.04,"d":5.5},{"c":"S1","v":0.07,"d":4.5},{"c":"S1","v":0.06,"d":3.5},{"c":"S1","v":0.09,"d":2.5},{"c":"S1","v":0.12,"d":1.6},{"c":"S1","v":0.16,"d":1.15},{"c":"S1","v":0.4,"d":1.05},{"c":"S1","v":0.7,"d":0.97},{"c":"S1","v":1.0,"d":0.9},{"c":"S1","v":1.3,"d":0.85},{"c":"S1","v":1.55,"d":0.82},{"c":"S1","v":1.72,"d":0.8},{"c":"S1","v":1.79,"d":0.55},{"c":"S1","v":1.85,"d":0.4},{"c":"S1","v":1.96,"d":0.18},
{"c":"S2","v":0.03,"d":10.0},{"c":"S2","v":0.05,"d":9.0},{"c":"S2","v":0.04,"d":8.0},{"c":"S2","v":0.06,"d":7.0},{"c":"S2","v":0.05,"d":6.0},{"c":"S2","v":0.08,"d":5.0},{"c":"S2","v":0.10,"d":4.0},{"c":"S2","v":0.12,"d":3.2},{"c":"S2","v":0.15,"d":2.6},{"c":"S2","v":0.25,"d":2.4},{"c":"S2","v":0.32,"d":2.4},{"c":"S2","v":0.42,"d":2.3},{"c":"S2","v":0.52,"d":2.1},{"c":"S2","v":0.62,"d":1.8},{"c":"S2","v":0.74,"d":1.4},{"c":"S2","v":0.86,"d":1.1},{"c":"S2","v":0.95,"d":0.8},{"c":"S2","v":1.15,"d":0.55},{"c":"S2","v":1.18,"d":0.3},{"c":"S2","v":1.20,"d":0.1},
{"c":"S3","v":0.02,"d":10.5},{"c":"S3","v":0.03,"d":9.0},{"c":"S3","v":0.05,"d":7.5},{"c":"S3","v":0.04,"d":6.0},{"c":"S3","v":0.06,"d":4.5},{"c":"S3","v":0.09,"d":3.5},{"c":"S3","v":0.12,"d":2.5},{"c":"S3","v":0.18,"d":1.8},{"c":"S3","v":0.28,"d":1.5},{"c":"S3","v":0.38,"d":1.3},{"c":"S3","v":0.48,"d":1.2},{"c":"S3","v":0.56,"d":1.1},{"c":"S3","v":0.52,"d":0.8},{"c":"S3","v":0.45,"d":0.65},{"c":"S3","v":0.42,"d":0.5},{"c":"S3","v":0.42,"d":0.2},
{"c":"S4","v":0.05,"d":9.8},{"c":"S4","v":0.03,"d":8.5},{"c":"S4","v":0.06,"d":7.0},{"c":"S4","v":0.04,"d":5.5},{"c":"S4","v":0.05,"d":4.2},{"c":"S4","v":0.08,"d":3.6},{"c":"S4","v":0.16,"d":3.4},{"c":"S4","v":0.24,"d":3.1},{"c":"S4","v":0.33,"d":2.7},{"c":"S4","v":0.28,"d":2.5},{"c":"S4","v":0.22,"d":2.0},{"c":"S4","v":0.18,"d":1.3},{"c":"S4","v":0.20,"d":0.6},{"c":"S4","v":0.22,"d":0.1},
{"c":"S5","v":0.10,"d":10.0},{"c":"S5","v":0.08,"d":9.0},{"c":"S5","v":0.11,"d":8.0},{"c":"S5","v":0.09,"d":7.0},{"c":"S5","v":0.12,"d":6.0},{"c":"S5","v":0.10,"d":5.0},{"c":"S5","v":0.14,"d":4.6},{"c":"S5","v":0.17,"d":4.2},{"c":"S5","v":0.20,"d":3.8},{"c":"S5","v":0.24,"d":3.3},{"c":"S5","v":0.28,"d":2.9},{"c":"S5","v":0.31,"d":2.6},{"c":"S5","v":0.30,"d":2.0},{"c":"S5","v":0.26,"d":1.6},{"c":"S5","v":0.27,"d":0.8},{"c":"S5","v":0.27,"d":0.1},
{"c":"S6","v":0.12,"d":9.0},{"c":"S6","v":0.14,"d":8.2},{"c":"S6","v":0.15,"d":7.2},{"c":"S6","v":0.16,"d":6.0},{"c":"S6","v":0.15,"d":5.0},{"c":"S6","v":0.17,"d":4.2},{"c":"S6","v":0.20,"d":3.5},{"c":"S6","v":0.22,"d":3.0},{"c":"S6","v":0.26,"d":2.4},{"c":"S6","v":0.30,"d":2.0},{"c":"S6","v":0.35,"d":1.7},{"c":"S6","v":0.38,"d":1.4},{"c":"S6","v":0.32,"d":1.2},{"c":"S6","v":0.28,"d":0.8},{"c":"S6","v":0.25,"d":0.1},
{"c":"S7","v":0.01,"d":11.8},{"c":"S7","v":0.02,"d":11.0},{"c":"S7","v":0.01,"d":10.0},{"c":"S7","v":0.03,"d":9.0},{"c":"S7","v":0.02,"d":8.0},{"c":"S7","v":0.04,"d":7.0},{"c":"S7","v":0.03,"d":6.0},{"c":"S7","v":0.05,"d":5.0},{"c":"S7","v":0.06,"d":4.0},{"c":"S7","v":0.08,"d":3.0},{"c":"S7","v":0.13,"d":2.2},{"c":"S7","v":0.20,"d":1.6},{"c":"S7","v":0.28,"d":1.2},{"c":"S7","v":0.36,"d":1.0},{"c":"S7","v":0.30,"d":0.8},{"c":"S7","v":0.22,"d":0.6},{"c":"S7","v":0.18,"d":0.1},
{"c":"S8","v":0.08,"d":11.2},{"c":"S8","v":0.10,"d":10.4},{"c":"S8","v":0.08,"d":9.6},{"c":"S8","v":0.11,"d":8.8},{"c":"S8","v":0.09,"d":8.0},{"c":"S8","v":0.10,"d":7.0},{"c":"S8","v":0.08,"d":6.0},{"c":"S8","v":0.10,"d":5.0},{"c":"S8","v":0.09,"d":4.0},{"c":"S8","v":0.11,"d":3.0},{"c":"S8","v":0.12,"d":2.0},{"c":"S8","v":0.14,"d":1.0},{"c":"S8","v":0.15,"d":0.1},
{"c":"S9","v":0.12,"d":11.8},{"c":"S9","v":0.11,"d":11.0},{"c":"S9","v":0.09,"d":10.0},{"c":"S9","v":0.10,"d":9.0},{"c":"S9","v":0.08,"d":8.0},{"c":"S9","v":0.09,"d":7.0},{"c":"S9","v":0.07,"d":6.0},{"c":"S9","v":0.08,"d":5.0},{"c":"S9","v":0.06,"d":4.0},{"c":"S9","v":0.07,"d":3.0},{"c":"S9","v":0.08,"d":2.0},{"c":"S9","v":0.10,"d":1.0},{"c":"S9","v":0.11,"d":0.1},
{"c":"S10","v":0.04,"d":12.0},{"c":"S10","v":0.05,"d":11.0},{"c":"S10","v":0.06,"d":10.2},{"c":"S10","v":0.04,"d":9.4},{"c":"S10","v":0.07,"d":8.6},{"c":"S10","v":0.05,"d":7.6},{"c":"S10","v":0.07,"d":6.6},{"c":"S10","v":0.06,"d":5.6},{"c":"S10","v":0.08,"d":4.6},{"c":"S10","v":0.07,"d":3.6},{"c":"S10","v":0.09,"d":2.6},{"c":"S10","v":0.08,"d":1.6},{"c":"S10","v":0.09,"d":0.6},{"c":"S10","v":0.09,"d":0.1},
{"c":"S11","v":0.0,"d":11.5},{"c":"S11","v":0.01,"d":10.5},{"c":"S11","v":0.0,"d":9.5},{"c":"S11","v":0.02,"d":8.5},{"c":"S11","v":0.01,"d":7.5},{"c":"S11","v":0.02,"d":6.5},{"c":"S11","v":0.01,"d":5.5},{"c":"S11","v":0.02,"d":4.5},{"c":"S11","v":0.01,"d":3.5},{"c":"S11","v":0.03,"d":2.5},{"c":"S11","v":0.02,"d":1.5},{"c":"S11","v":0.03,"d":0.5},{"c":"S11","v":0.03,"d":0.1},
{"c":"S12","v":0.06,"d":10.8},{"c":"S12","v":0.07,"d":10.0},{"c":"S12","v":0.05,"d":9.2},{"c":"S12","v":0.08,"d":8.4},{"c":"S12","v":0.06,"d":7.6},{"c":"S12","v":0.09,"d":6.8},{"c":"S12","v":0.07,"d":6.0},{"c":"S12","v":0.09,"d":5.2},{"c":"S12","v":0.10,"d":4.4},{"c":"S12","v":0.09,"d":3.6},{"c":"S12","v":0.11,"d":2.8},{"c":"S12","v":0.13,"d":2.0},{"c":"S12","v":0.16,"d":1.2},{"c":"S12","v":0.19,"d":0.6},{"c":"S12","v":0.20,"d":0.1},
{"c":"S13","v":0.03,"d":11.0},{"c":"S13","v":0.04,"d":10.0},{"c":"S13","v":0.03,"d":9.0},{"c":"S13","v":0.05,"d":8.0},{"c":"S13","v":0.04,"d":7.0},{"c":"S13","v":0.05,"d":6.0},{"c":"S13","v":0.04,"d":5.0},{"c":"S13","v":0.06,"d":4.0},{"c":"S13","v":0.05,"d":3.0},{"c":"S13","v":0.06,"d":2.0},{"c":"S13","v":0.07,"d":1.0},{"c":"S13","v":0.06,"d":0.1},
{"c":"S14","v":0.11,"d":9.5},{"c":"S14","v":0.14,"d":9.0},{"c":"S14","v":0.16,"d":8.3},{"c":"S14","v":0.15,"d":7.5},{"c":"S14","v":0.17,"d":6.5},{"c":"S14","v":0.18,"d":5.6},{"c":"S14","v":0.17,"d":4.8},{"c":"S14","v":0.19,"d":4.2},{"c":"S14","v":0.20,"d":3.6},{"c":"S14","v":0.18,"d":2.8},{"c":"S14","v":0.16,"d":2.0},{"c":"S14","v":0.14,"d":1.2},{"c":"S14","v":0.13,"d":0.1},
{"c":"S15","v":0.02,"d":8.8},{"c":"S15","v":0.05,"d":8.2},{"c":"S15","v":0.03,"d":7.4},{"c":"S15","v":0.06,"d":6.6},{"c":"S15","v":0.04,"d":5.8},{"c":"S15","v":0.07,"d":5.0},{"c":"S15","v":0.05,"d":4.0},{"c":"S15","v":0.08,"d":3.2},{"c":"S15","v":0.10,"d":2.4},{"c":"S15","v":0.15,"d":1.8},{"c":"S15","v":0.22,"d":1.4},{"c":"S15","v":0.34,"d":1.3},{"c":"S15","v":0.45,"d":1.2},{"c":"S15","v":0.50,"d":1.3},{"c":"S15","v":0.42,"d":1.0},{"c":"S15","v":0.35,"d":0.7},{"c":"S15","v":0.30,"d":0.4},{"c":"S15","v":0.28,"d":0.1},
{"c":"S16","v":0.07,"d":11.6},{"c":"S16","v":0.06,"d":10.8},{"c":"S16","v":0.08,"d":10.0},{"c":"S16","v":0.06,"d":9.2},{"c":"S16","v":0.08,"d":8.4},{"c":"S16","v":0.07,"d":7.6},{"c":"S16","v":0.09,"d":6.8},{"c":"S16","v":0.08,"d":6.0},{"c":"S16","v":0.10,"d":5.2},{"c":"S16","v":0.12,"d":4.6},{"c":"S16","v":0.15,"d":4.0},{"c":"S16","v":0.19,"d":3.4},{"c":"S16","v":0.24,"d":2.9},{"c":"S16","v":0.30,"d":2.6},{"c":"S16","v":0.34,"d":2.5},{"c":"S16","v":0.30,"d":2.2},{"c":"S16","v":0.25,"d":1.8},{"c":"S16","v":0.24,"d":1.0},{"c":"S16","v":0.25,"d":0.1},
{"c":"S18","v":0.09,"d":10.6},{"c":"S18","v":0.10,"d":9.8},{"c":"S18","v":0.08,"d":9.0},{"c":"S18","v":0.10,"d":8.2},{"c":"S18","v":0.09,"d":7.4},{"c":"S18","v":0.11,"d":6.6},{"c":"S18","v":0.10,"d":5.8},{"c":"S18","v":0.12,"d":5.0},{"c":"S18","v":0.11,"d":4.2},{"c":"S18","v":0.13,"d":3.4},{"c":"S18","v":0.15,"d":2.6},{"c":"S18","v":0.17,"d":1.8},{"c":"S18","v":0.19,"d":1.0},{"c":"S18","v":0.18,"d":0.1},
{"c":"S19","v":0.05,"d":11.9},{"c":"S19","v":0.04,"d":11.2},{"c":"S19","v":0.06,"d":10.4},{"c":"S19","v":0.05,"d":9.6},{"c":"S19","v":0.03,"d":8.8},{"c":"S19","v":0.05,"d":8.0},{"c":"S19","v":0.04,"d":7.2},{"c":"S19","v":0.06,"d":6.4},{"c":"S19","v":0.05,"d":5.6},{"c":"S19","v":0.07,"d":4.8},{"c":"S19","v":0.09,"d":4.0},{"c":"S19","v":0.12,"d":3.3},{"c":"S19","v":0.16,"d":2.7},{"c":"S19","v":0.20,"d":2.2},{"c":"S19","v":0.22,"d":1.6},{"c":"S19","v":0.20,"d":1.0},{"c":"S19","v":0.21,"d":0.4},{"c":"S19","v":0.20,"d":0.1}
],
"ssc_n": [
{"c":"L1","v":0.025,"d":11.4},{"c":"L1","v":0.024,"d":10.5},{"c":"L1","v":0.025,"d":9.5},{"c":"L1","v":0.026,"d":8.8},{"c":"L1","v":0.030,"d":8.3},{"c":"L1","v":0.036,"d":7.8},{"c":"L1","v":0.042,"d":7.3},{"c":"L1","v":0.048,"d":6.8},{"c":"L1","v":0.053,"d":6.3},{"c":"L1","v":0.058,"d":5.7},{"c":"L1","v":0.059,"d":5.2},{"c":"L1","v":0.062,"d":4.6},{"c":"L1","v":0.064,"d":4.0},{"c":"L1","v":0.066,"d":3.5},{"c":"L1","v":0.070,"d":3.0},{"c":"L1","v":0.072,"d":2.6},{"c":"L1","v":0.065,"d":2.3},{"c":"L1","v":0.070,"d":1.8},{"c":"L1","v":0.076,"d":1.3},{"c":"L1","v":0.078,"d":0.8},{"c":"L1","v":0.082,"d":0.2},
{"c":"L2","v":0.020,"d":11.0},{"c":"L2","v":0.019,"d":10.0},{"c":"L2","v":0.021,"d":9.0},{"c":"L2","v":0.020,"d":8.0},{"c":"L2","v":0.022,"d":7.0},{"c":"L2","v":0.021,"d":6.0},{"c":"L2","v":0.023,"d":5.0},{"c":"L2","v":0.025,"d":4.0},{"c":"L2","v":0.028,"d":3.2},{"c":"L2","v":0.034,"d":2.6},{"c":"L2","v":0.045,"d":2.3},{"c":"L2","v":0.060,"d":2.2},{"c":"L2","v":0.075,"d":2.1},{"c":"L2","v":0.085,"d":1.9},{"c":"L2","v":0.095,"d":1.6},{"c":"L2","v":0.100,"d":1.4},{"c":"L2","v":0.105,"d":1.2},{"c":"L2","v":0.106,"d":0.7},{"c":"L2","v":0.115,"d":0.6},{"c":"L2","v":0.124,"d":0.5},{"c":"L2","v":0.127,"d":0.2},
{"c":"L3","v":0.018,"d":12.0},{"c":"L3","v":0.019,"d":11.0},{"c":"L3","v":0.017,"d":10.0},{"c":"L3","v":0.020,"d":9.0},{"c":"L3","v":0.019,"d":8.0},{"c":"L3","v":0.021,"d":7.0},{"c":"L3","v":0.022,"d":6.0},{"c":"L3","v":0.024,"d":5.2},{"c":"L3","v":0.030,"d":4.8},{"c":"L3","v":0.038,"d":4.6},{"c":"L3","v":0.045,"d":4.2},{"c":"L3","v":0.048,"d":3.6},{"c":"L3","v":0.048,"d":3.0},{"c":"L3","v":0.048,"d":2.0},{"c":"L3","v":0.049,"d":1.0},{"c":"L3","v":0.048,"d":0.3},
{"c":"L4","v":0.014,"d":11.7},{"c":"L4","v":0.015,"d":11.0},{"c":"L4","v":0.014,"d":10.0},{"c":"L4","v":0.016,"d":9.0},{"c":"L4","v":0.015,"d":8.0},{"c":"L4","v":0.017,"d":7.0},{"c":"L4","v":0.018,"d":6.0},{"c":"L4","v":0.020,"d":5.0},{"c":"L4","v":0.024,"d":4.0},{"c":"L4","v":0.028,"d":3.3},{"c":"L4","v":0.040,"d":3.3},{"c":"L4","v":0.055,"d":3.2},{"c":"L4","v":0.070,"d":3.0},{"c":"L4","v":0.072,"d":2.7},{"c":"L4","v":0.060,"d":2.4},{"c":"L4","v":0.066,"d":1.8},{"c":"L4","v":0.072,"d":1.2},{"c":"L4","v":0.075,"d":0.6},{"c":"L4","v":0.077,"d":0.2},
{"c":"L5","v":0.016,"d":11.5},{"c":"L5","v":0.017,"d":10.5},{"c":"L5","v":0.016,"d":9.5},{"c":"L5","v":0.018,"d":8.5},{"c":"L5","v":0.019,"d":7.5},{"c":"L5","v":0.020,"d":6.5},{"c":"L5","v":0.021,"d":5.8},{"c":"L5","v":0.030,"d":5.3},{"c":"L5","v":0.040,"d":5.0},{"c":"L5","v":0.047,"d":4.5},{"c":"L5","v":0.052,"d":3.8},{"c":"L5","v":0.055,"d":3.0},{"c":"L5","v":0.058,"d":2.6},{"c":"L5","v":0.060,"d":2.2},{"c":"L5","v":0.063,"d":1.6},{"c":"L5","v":0.066,"d":1.0},{"c":"L5","v":0.070,"d":0.5},{"c":"L5","v":0.072,"d":0.2},
{"c":"L6","v":0.013,"d":11.6},{"c":"L6","v":0.012,"d":10.5},{"c":"L6","v":0.014,"d":9.5},{"c":"L6","v":0.016,"d":8.5},{"c":"L6","v":0.015,"d":7.5},{"c":"L6","v":0.017,"d":6.5},{"c":"L6","v":0.016,"d":5.5},{"c":"L6","v":0.017,"d":4.5},{"c":"L6","v":0.016,"d":3.5},{"c":"L6","v":0.017,"d":2.5},{"c":"L6","v":0.016,"d":1.5},{"c":"L6","v":0.017,"d":0.8},{"c":"L6","v":0.019,"d":0.2},
{"c":"L7","v":0.020,"d":11.8},{"c":"L7","v":0.021,"d":10.8},{"c":"L7","v":0.020,"d":10.0},{"c":"L7","v":0.022,"d":9.2},{"c":"L7","v":0.021,"d":8.4},{"c":"L7","v":0.023,"d":7.6},{"c":"L7","v":0.022,"d":6.8},{"c":"L7","v":0.024,"d":6.0},{"c":"L7","v":0.027,"d":5.5},{"c":"L7","v":0.035,"d":5.3},{"c":"L7","v":0.042,"d":5.0},{"c":"L7","v":0.045,"d":4.5},{"c":"L7","v":0.048,"d":4.0},{"c":"L7","v":0.050,"d":3.5},{"c":"L7","v":0.052,"d":2.8},{"c":"L7","v":0.056,"d":2.2},{"c":"L7","v":0.060,"d":1.6},{"c":"L7","v":0.064,"d":1.0},{"c":"L7","v":0.066,"d":0.4},
{"c":"L8","v":0.017,"d":11.2},{"c":"L8","v":0.018,"d":10.2},{"c":"L8","v":0.019,"d":9.2},{"c":"L8","v":0.018,"d":8.2},{"c":"L8","v":0.020,"d":7.2},{"c":"L8","v":0.022,"d":6.4},{"c":"L8","v":0.023,"d":5.6},{"c":"L8","v":0.025,"d":4.8},{"c":"L8","v":0.028,"d":4.0},{"c":"L8","v":0.032,"d":3.2},{"c":"L8","v":0.035,"d":2.4},{"c":"L8","v":0.038,"d":1.6},{"c":"L8","v":0.040,"d":1.0},{"c":"L8","v":0.040,"d":0.6},{"c":"L8","v":0.037,"d":0.3},{"c":"L8","v":0.038,"d":0.1},
{"c":"L9","v":0.022,"d":10.5},{"c":"L9","v":0.021,"d":9.6},{"c":"L9","v":0.023,"d":8.7},{"c":"L9","v":0.022,"d":7.8},{"c":"L9","v":0.024,"d":7.0},{"c":"L9","v":0.026,"d":6.4},{"c":"L9","v":0.030,"d":6.0},{"c":"L9","v":0.035,"d":5.7},{"c":"L9","v":0.040,"d":5.2},{"c":"L9","v":0.043,"d":4.6},{"c":"L9","v":0.045,"d":3.8},{"c":"L9","v":0.047,"d":3.0},{"c":"L9","v":0.050,"d":2.2},{"c":"L9","v":0.052,"d":1.6},{"c":"L9","v":0.057,"d":1.0},{"c":"L9","v":0.060,"d":0.5},{"c":"L9","v":0.058,"d":0.2},
{"c":"L10","v":0.015,"d":10.8},{"c":"L10","v":0.016,"d":10.0},{"c":"L10","v":0.017,"d":9.0},{"c":"L10","v":0.018,"d":8.0},{"c":"L10","v":0.017,"d":7.0},{"c":"L10","v":0.019,"d":6.0},{"c":"L10","v":0.020,"d":5.0},{"c":"L10","v":0.021,"d":4.0},{"c":"L10","v":0.023,"d":3.0},{"c":"L10","v":0.026,"d":2.2},{"c":"L10","v":0.030,"d":1.6},{"c":"L10","v":0.032,"d":1.0},{"c":"L10","v":0.031,"d":0.5},{"c":"L10","v":0.030,"d":0.2},
{"c":"L11","v":0.019,"d":11.9},{"c":"L11","v":0.020,"d":11.0},{"c":"L11","v":0.021,"d":10.2},{"c":"L11","v":0.020,"d":9.4},{"c":"L11","v":0.022,"d":8.6},{"c":"L11","v":0.021,"d":7.8},{"c":"L11","v":0.023,"d":7.0},{"c":"L11","v":0.024,"d":6.0},{"c":"L11","v":0.026,"d":5.0},{"c":"L11","v":0.028,"d":4.2},{"c":"L11","v":0.033,"d":3.6},{"c":"L11","v":0.040,"d":3.0},{"c":"L11","v":0.046,"d":2.4},{"c":"L11","v":0.052,"d":1.9},{"c":"L11","v":0.060,"d":1.5},{"c":"L11","v":0.066,"d":1.2},{"c":"L11","v":0.070,"d":0.9},{"c":"L11","v":0.068,"d":0.5},{"c":"L11","v":0.063,"d":0.2},
{"c":"L12","v":0.018,"d":10.2},{"c":"L12","v":0.019,"d":9.3},{"c":"L12","v":0.017,"d":8.4},{"c":"L12","v":0.019,"d":7.5},{"c":"L12","v":0.018,"d":6.6},{"c":"L12","v":0.020,"d":5.8},{"c":"L12","v":0.019,"d":5.0},{"c":"L12","v":0.022,"d":4.2},{"c":"L12","v":0.024,"d":3.4},{"c":"L12","v":0.028,"d":2.6},{"c":"L12","v":0.032,"d":2.0},{"c":"L12","v":0.036,"d":1.4},{"c":"L12","v":0.040,"d":0.9},{"c":"L12","v":0.043,"d":0.5},{"c":"L12","v":0.045,"d":0.2},
{"c":"L13","v":0.012,"d":11.0},{"c":"L13","v":0.013,"d":10.0},{"c":"L13","v":0.012,"d":9.0},{"c":"L13","v":0.014,"d":8.0},{"c":"L13","v":0.013,"d":7.0},{"c":"L13","v":0.015,"d":6.0},{"c":"L13","v":0.016,"d":5.0},{"c":"L13","v":0.018,"d":4.0},{"c":"L13","v":0.020,"d":3.0},{"c":"L13","v":0.021,"d":2.0},{"c":"L13","v":0.022,"d":1.0},{"c":"L13","v":0.023,"d":0.2},
{"c":"L14","v":0.021,"d":11.3},{"c":"L14","v":0.022,"d":10.4},{"c":"L14","v":0.021,"d":9.6},{"c":"L14","v":0.023,"d":8.8},{"c":"L14","v":0.022,"d":8.0},{"c":"L14","v":0.024,"d":7.2},{"c":"L14","v":0.026,"d":6.5},{"c":"L14","v":0.028,"d":6.0},{"c":"L14","v":0.030,"d":5.4},{"c":"L14","v":0.031,"d":4.6},{"c":"L14","v":0.034,"d":3.8},{"c":"L14","v":0.038,"d":3.0},{"c":"L14","v":0.042,"d":2.3},{"c":"L14","v":0.045,"d":1.7},{"c":"L14","v":0.050,"d":1.3},{"c":"L14","v":0.055,"d":1.0},{"c":"L14","v":0.058,"d":0.6},{"c":"L14","v":0.057,"d":0.2}
],
"zero": [{"v":0,"d":0},{"v":0,"d":13}],
"tide": [{"label":"FLOOD","v":-0.98,"d":10.9},{"label":"EBB","v":1.13,"d":10.9}],
"brk": [{"label":"/ /","v":1.83,"d":0.2}]
},
"columns": 2,
"bounds": "flush",
"spacing": {"row": 71, "column": 121},
"concat": [
  {"width": 328, "height": 167,
   "title": {"text": "Spring: 8 April 1997", "subtitle": "SALINITY", "fontSize": 23, "offset": 8},
   "data": {"name": "sal_s"},
   "mark": {"type": "line", "color": "black", "strokeWidth": 0.9},
   "encoding": {
     "x": {"field": "v", "type": "quantitative", "scale": {"domain": [10, 30], "nice": false, "zero": false}, "axis": {"values": [10, 15, 20, 25, 30], "title": "(PSU)", "labelExpr": "''+datum.value"}},
     "y": {"field": "d", "type": "quantitative", "scale": {"domain": [0, 13], "nice": false}, "axis": {"values": [0, 5, 10], "title": "Depth (mab)"}},
     "detail": {"field": "c"},
     "order": {"value": null}}},
  {"width": 328, "height": 167,
   "title": {"text": "Neap: 15 April 1997", "subtitle": "SALINITY (PSU)", "fontSize": 23, "offset": 8},
   "data": {"name": "sal_n"},
   "mark": {"type": "line", "color": "black", "strokeWidth": 0.9},
   "encoding": {
     "x": {"field": "v", "type": "quantitative", "scale": {"domain": [10, 30], "nice": false, "zero": false}, "axis": {"values": [10, 15, 20, 25, 30], "title": "(PSU)", "labelExpr": "''+datum.value"}},
     "y": {"field": "d", "type": "quantitative", "scale": {"domain": [0, 13], "nice": false}, "axis": {"values": [0, 5, 10], "title": "Depth (mab)"}},
     "detail": {"field": "c"},
     "order": {"value": null}}},
  {"width": 328, "height": 167,
   "title": {"text": "AXIAL CURRENT"},
   "encoding": {
     "x": {"field": "v", "type": "quantitative", "scale": {"domain": [-1.4, 1.6], "nice": false, "zero": false}, "axis": {"values": [-1, -0.5, 0, 0.5, 1, 1.5], "title": "(m s⁻¹)", "labelExpr": "''+datum.value"}},
     "y": {"field": "d", "type": "quantitative", "scale": {"domain": [0, 13], "nice": false}, "axis": {"values": [0, 5, 10], "title": "Depth (mab)"}}},
   "layer": [
     {"data": {"name": "zero"}, "mark": {"type": "line", "color": "black", "strokeWidth": 0.9}},
     {"data": {"name": "cur_s"}, "mark": {"type": "line", "color": "black", "strokeWidth": 0.9}, "encoding": {"detail": {"field": "c"}, "order": {"value": null}}},
     {"data": {"name": "tide"}, "mark": {"type": "text", "font": "Liberation Sans", "fontSize": 14, "fontWeight": "bold", "color": "black"}, "encoding": {"text": {"field": "label"}}}
   ]},
  {"width": 328, "height": 167,
   "title": {"text": "AXIAL CURRENT"},
   "encoding": {
     "x": {"field": "v", "type": "quantitative", "scale": {"domain": [-1.4, 1.6], "nice": false, "zero": false}, "axis": {"values": [-1, -0.5, 0, 0.5, 1, 1.5], "title": "(m s⁻¹)", "labelExpr": "''+datum.value"}},
     "y": {"field": "d", "type": "quantitative", "scale": {"domain": [0, 13], "nice": false}, "axis": {"values": [0, 5, 10], "title": "Depth (mab)"}}},
   "layer": [
     {"data": {"name": "zero"}, "mark": {"type": "line", "color": "black", "strokeWidth": 0.9}},
     {"data": {"name": "cur_n"}, "mark": {"type": "line", "color": "black", "strokeWidth": 0.9}, "encoding": {"detail": {"field": "c"}, "order": {"value": null}}},
     {"data": {"name": "tide"}, "mark": {"type": "text", "font": "Liberation Sans", "fontSize": 14, "fontWeight": "bold", "color": "black"}, "encoding": {"text": {"field": "label"}}}
   ]},
  {"width": 328, "height": 167,
   "title": {"text": "SSC"},
   "encoding": {
     "x": {"field": "v", "type": "quantitative", "scale": {"domain": [0, 2], "nice": false, "zero": false}, "axis": {"values": [0, 0.5, 1, 1.5, 2], "title": "(g l⁻¹)", "labelExpr": "datum.value == 2 ? '4' : ''+datum.value"}},
     "y": {"field": "d", "type": "quantitative", "scale": {"domain": [0, 13], "nice": false}, "axis": {"values": [0, 5, 10], "title": "Depth (mab)"}}},
   "layer": [
     {"data": {"name": "ssc_s"}, "mark": {"type": "line", "color": "black", "strokeWidth": 0.9}, "encoding": {"detail": {"field": "c"}, "order": {"value": null}}},
     {"data": {"name": "brk"}, "mark": {"type": "text", "font": "DejaVu Sans", "fontSize": 15, "color": "black"}, "encoding": {"text": {"field": "label"}}}
   ]},
  {"width": 328, "height": 167,
   "title": {"text": "SSC"},
   "data": {"name": "ssc_n"},
   "mark": {"type": "line", "color": "black", "strokeWidth": 0.9},
   "encoding": {
     "x": {"field": "v", "type": "quantitative", "scale": {"domain": [0, 0.2], "nice": false, "zero": false}, "axis": {"values": [0, 0.05, 0.1, 0.15, 0.2], "title": "(g l⁻¹)", "labelExpr": "''+datum.value"}},
     "y": {"field": "d", "type": "quantitative", "scale": {"domain": [0, 13], "nice": false}, "axis": {"values": [0, 5, 10], "title": "Depth (mab)"}},
     "detail": {"field": "c"},
     "order": {"value": null}}}
]
}
